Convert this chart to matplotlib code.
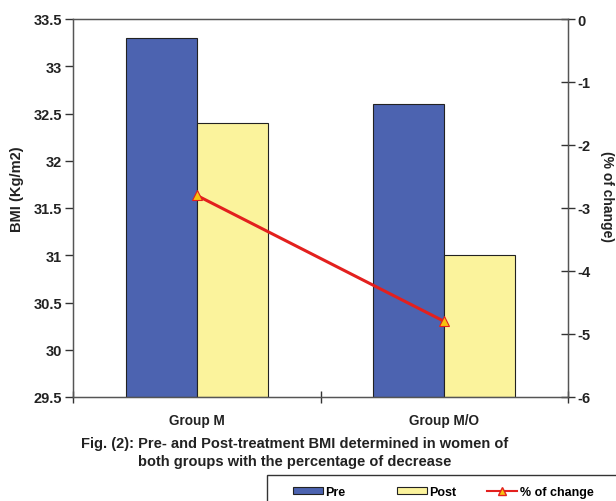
import matplotlib
matplotlib.use("Agg")
import matplotlib.pyplot as plt
from matplotlib.patches import Patch, Rectangle
from matplotlib.lines import Line2D

plt.rcParams['font.family'] = ['Liberation Sans', 'DejaVu Sans']
plt.rcParams['font.weight'] = 'bold'

groups = ["Group M", "Group M/O"]
pre = [33.3, 32.6]
post = [32.4, 31.0]
pct_change = [-2.8, -4.8]
left_ticks = [29.5, 30, 30.5, 31, 31.5, 32, 32.5, 33, 33.5]
right_ticks = [-6, -5, -4, -3, -2, -1, 0]
legend_labels = ["Pre", "Post", "% of change"]

blue = "#4C63B0"
yellow = "#FBF39C"
red = "#E3201E"
orange = "#F6C20F"
txt = "#222222"

fig = plt.figure(figsize=(6.16, 5.02), dpi=100)
W, H = 616, 502
ax = fig.add_axes([73 / W, 1 - 398 / H, (568 - 73) / W, (398 - 20) / H])

x = list(range(len(groups)))
bw = 0.287
ax.bar([i - bw / 2 for i in x], [p - 29.5 for p in pre], bw, bottom=29.5,
       color=blue, edgecolor="#222222", linewidth=0.8, zorder=2)
ax.bar([i + bw / 2 for i in x], [p - 29.5 for p in post], bw, bottom=29.5,
       color=yellow, edgecolor="#222222", linewidth=0.8, zorder=2)
ax.set_xlim(-0.5, 1.5)
ax.set_ylim(29.5, 33.5)
ax.set_yticks(left_ticks)
ax.set_yticklabels([f"{t:g}" for t in left_ticks], fontsize=10.5, fontweight="bold", color=txt)
ax.tick_params(axis="y", direction="out", length=6, width=1, color="#333333", pad=2)
ax.set_xticks([-0.5, 0.5, 1.5])
ax.set_xticklabels([])
ax.tick_params(axis="x", direction="inout", length=9, width=1, color="#333333")
for i, g in enumerate(groups):
    ax.text(i, -0.061, g, transform=ax.get_xaxis_transform(), ha="center", va="center",
            fontsize=9.8, fontweight="bold", color=txt)
for s in ax.spines.values():
    s.set_color("#555555")
    s.set_linewidth(1)
ax.set_ylabel("BMI (Kg/m2)", fontsize=10.5, fontweight="bold", color=txt)
ax.yaxis.set_label_coords(-0.099, 0.553)

ax2 = ax.twinx()
ax2.plot(x, pct_change, color=red, linewidth=2.2, marker="^", markersize=7,
         markerfacecolor=orange, markeredgecolor=red, markeredgewidth=0.8, zorder=5)
ax2.set_ylim(-6, 0)
ax2.set_yticks(right_ticks)
ax2.set_yticklabels([f"{t:g}" for t in right_ticks], fontsize=10.5, fontweight="bold", color=txt)
ax2.tick_params(axis="y", direction="inout", length=10, width=1, color="#333333", pad=2)
ax2.set_ylabel("(% of change)", fontsize=10, fontweight="bold", rotation=270, color=txt)
ax2.yaxis.set_label_coords(1.092, 0.534)
for s in ax2.spines.values():
    s.set_color("#555555")

fig.text(295 / W, 1 - 453 / H,
         "Fig. (2): Pre- and Post-treatment BMI determined in women of\nboth groups with the percentage of decrease",
         ha="center", va="center", fontsize=10.5, fontweight="bold", linespacing=1.3, color=txt)

handles = [Patch(facecolor=blue, edgecolor="#222222", linewidth=0.8),
           Patch(facecolor=yellow, edgecolor="#222222", linewidth=0.8),
           Line2D([0], [0], color=red, linewidth=1.5, marker="^", markersize=6,
                  markerfacecolor=orange, markeredgecolor=red)]
starts = [293, 397, 487]
for h, lab, xs in zip(handles, legend_labels, starts):
    fig.legend([h], [lab], loc="center left", bbox_to_anchor=(xs / W, 1 - 493 / H),
               frameon=False, prop={"size": 9, "weight": "bold"}, handlelength=2.4,
               handleheight=0.5, handletextpad=0.2, borderpad=0, borderaxespad=0)
fig.add_artist(Rectangle((267 / W, -0.1), 1, (1 - 476 / H) + 0.1, transform=fig.transFigure,
                         fill=False, edgecolor="#333333", linewidth=1))

fig.savefig("out.png", dpi=100)
